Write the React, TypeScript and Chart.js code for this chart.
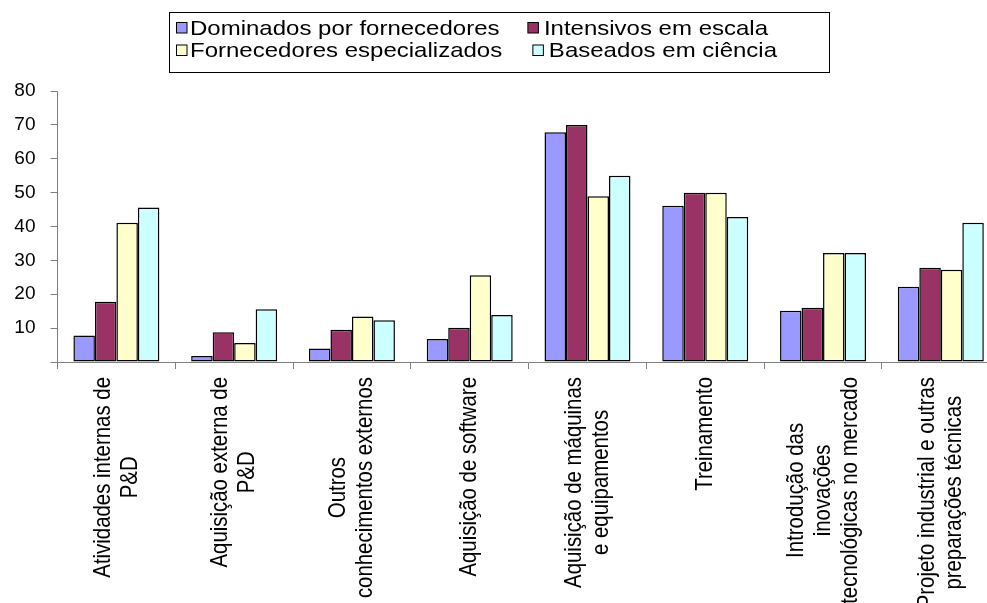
import React, { useEffect, useRef } from 'react';
import { Chart, registerables } from 'chart.js';

Chart.register(...registerables);

// Category labels, one entry per line of the rotated axis text
const categories: string[][] = [
  ['Atividades internas de', 'P&D'],
  ['Aquisição externa de', 'P&D'],
  ['Outros', 'conhecimentos externos'],
  ['Aquisição de software'],
  ['Aquisição de máquinas', 'e equipamentos'],
  ['Treinamento'],
  ['Introdução das', 'inovações', 'tecnológicas no mercado'],
  ['Projeto industrial e outras', 'preparações técnicas'],
];

const seriesNames = [
  'Dominados por fornecedores',
  'Intensivos em escala',
  'Fornecedores especializados',
  'Baseados em ciência',
];

const dominados = [7.8, 1.8, 4.0, 6.8, 67.8, 46.1, 15.1, 22.2];
const intensivos = [17.8, 8.8, 9.5, 10.1, 70.0, 50.0, 16.0, 27.8];
const especializados = [41.1, 5.6, 13.4, 25.6, 48.9, 50.0, 32.2, 27.2];
const ciencia = [45.6, 15.6, 12.3, 13.9, 55.0, 42.8, 32.2, 41.1];

const seriesColors = ['#9999FF', '#993366', '#FFFFCC', '#CCFFFF'];

const yMin = 0;
const yMax = 80;
const yStep = 10;

const FONT = "'Liberation Sans', Arial, sans-serif";
const CANVAS_W = 1010;
const CANVAS_H = 603;
// Text in this chart is set slightly squat (shorter than its width suggests)
const TEXT_SQUASH = 0.85;

// Boxed two-row legend drawn above the plot
const legendPlugin = {
  id: 'boxedLegend',
  afterDraw(chart: any) {
    const ctx: CanvasRenderingContext2D = chart.ctx;
    ctx.save();
    ctx.font = `24px ${FONT}`;
    ctx.textBaseline = 'alphabetic';
    ctx.textAlign = 'left';

    ctx.strokeStyle = '#000';
    ctx.lineWidth = 1;
    ctx.strokeRect(169.5, 12.5, 660, 60);

    const rows = [
      { baseline: 35, markerTop: 22.5, items: [0, 1], rightEnd: 768 },
      { baseline: 56.5, markerTop: 45, items: [2, 3], rightEnd: 777 },
    ];
    const box = 10.5;
    rows.forEach((row) => {
      const [a, b] = row.items;
      const secondTextX = row.rightEnd - ctx.measureText(seriesNames[b]).width;
      const entries = [
        { idx: a, markerX: 176.5, textX: 190 },
        { idx: b, markerX: secondTextX - 16, textX: secondTextX },
      ];
      entries.forEach((e) => {
        ctx.fillStyle = seriesColors[e.idx];
        ctx.fillRect(e.markerX, row.markerTop, box, box);
        ctx.strokeStyle = '#000';
        ctx.strokeRect(e.markerX, row.markerTop, box, box);
        ctx.save();
        ctx.translate(e.textX, row.baseline);
        ctx.scale(1, TEXT_SQUASH);
        ctx.fillStyle = '#000';
        ctx.fillText(seriesNames[e.idx], 0, 0);
        ctx.restore();
      });
    });
    ctx.restore();
  },
};

// Vertical category labels, lines centred on each other, hanging below the axis
const xLabelPlugin = {
  id: 'verticalCategoryLabels',
  afterDraw(chart: any) {
    const ctx: CanvasRenderingContext2D = chart.ctx;
    const xs = chart.scales.x;
    const top = chart.chartArea.bottom + 15;
    const lineGap = 27;
    ctx.save();
    ctx.font = `24px ${FONT}`;
    ctx.fillStyle = '#000';
    ctx.textAlign = 'center';
    ctx.textBaseline = 'middle';
    categories.forEach((lines, i) => {
      const cx = xs.getPixelForValue(i);
      const maxW = Math.max(...lines.map((l) => ctx.measureText(l).width)) * TEXT_SQUASH;
      const cy = top + maxW / 2;
      lines.forEach((line, j) => {
        const x = cx + (j - (lines.length - 1) / 2) * lineGap;
        ctx.save();
        ctx.translate(x, cy);
        ctx.scale(1, TEXT_SQUASH);
        ctx.rotate(-Math.PI / 2);
        ctx.fillText(line, 0, 0);
        ctx.restore();
      });
    });
    ctx.restore();
  },
};

export default function App() {
  const canvasRef = useRef<HTMLCanvasElement | null>(null);

  useEffect(() => {
    const canvas = canvasRef.current;
    if (!canvas) return;
    const values = [dominados, intensivos, especializados, ciencia];
    const chart = new Chart(canvas, {
      type: 'bar',
      data: {
        labels: categories.map((c) => c.join(' ')),
        datasets: values.map((data, i) => ({
          label: seriesNames[i],
          data,
          backgroundColor: seriesColors[i],
          borderColor: '#000',
          borderWidth: 1.5,
          borderSkipped: false,
          categoryPercentage: 0.73,
          barPercentage: 1,
        })),
      },
      options: {
        responsive: false,
        maintainAspectRatio: false,
        animation: false,
        devicePixelRatio: 1,
        layout: {
          padding: { top: 91, left: 0, right: CANVAS_W - 999.7, bottom: CANVAS_H - 362 - 7 },
        },
        plugins: {
          legend: { display: false },
          tooltip: { enabled: false },
        },
        scales: {
          x: {
            grid: {
              display: true,
              offset: true,
              drawOnChartArea: false,
              drawTicks: true,
              tickLength: 7,
              color: '#808080',
            },
            border: { display: true, color: '#808080', width: 1 },
            ticks: { display: false },
            afterFit: (s: any) => {
              s.height = 7;
            },
          },
          y: {
            min: yMin,
            max: yMax,
            ticks: {
              stepSize: yStep,
              padding: 15,
              color: '#000',
              font: { family: FONT, size: 19 },
              callback: (v: any) => (Number(v) === 0 ? '' : String(v)),
            },
            grid: {
              drawOnChartArea: false,
              drawTicks: true,
              tickLength: 7,
              color: '#808080',
            },
            border: { display: true, color: '#808080', width: 1 },
            afterFit: (s: any) => {
              s.width = 57.5;
            },
          },
        },
      },
      plugins: [legendPlugin, xLabelPlugin],
    });
    return () => chart.destroy();
  }, []);

  return (
    <div
      style={{
        position: 'fixed',
        left: 0,
        top: 0,
        width: 987,
        height: 603,
        overflow: 'hidden',
        background: '#fff',
      }}
    >
      <canvas
        ref={canvasRef}
        width={CANVAS_W}
        height={CANVAS_H}
        style={{ display: 'block', width: CANVAS_W, height: CANVAS_H }}
      />
    </div>
  );
}
